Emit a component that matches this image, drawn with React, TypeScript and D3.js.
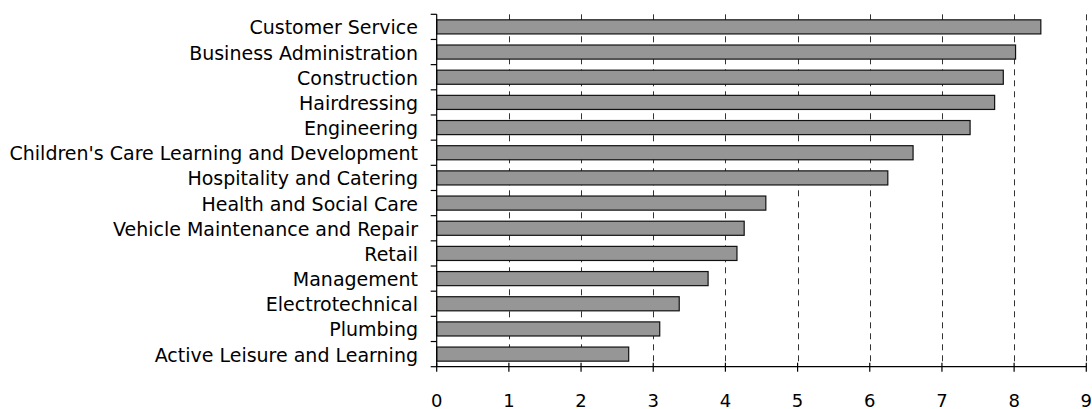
import React from 'react';
import * as d3 from 'd3';

const categories = [
  'Customer Service',
  'Business Administration',
  'Construction',
  'Hairdressing',
  'Engineering',
  "Children's Care Learning and Development",
  'Hospitality and Catering',
  'Health and Social Care',
  'Vehicle Maintenance and Repair',
  'Retail',
  'Management',
  'Electrotechnical',
  'Plumbing ',
  'Active Leisure and Learning',
];
const values = [8.37, 8.02, 7.85, 7.73, 7.39, 6.6, 6.25, 4.56, 4.26, 4.16, 3.76, 3.36, 3.09, 2.66];
const xTicks = [0, 1, 2, 3, 4, 5, 6, 7, 8, 9];

const W = 1092;
const H = 409;
const FONT = '"DejaVu Sans", Verdana, sans-serif';

export default function App() {
  const left = 436.7;
  const right = 1086.3;
  const top = 14.3;
  const bottom = 366.7;

  const x = d3.scaleLinear().domain([0, 9]).range([left, right]);
  const y = d3.scaleBand<string>().domain(categories).range([top, bottom]).paddingInner(0.44).paddingOuter(0.22);
  const step = (bottom - top) / categories.length;
  const boundaries = d3.range(categories.length + 1).map(i => top + i * step);

  return (
    <div style={{ position: 'absolute', left: 0, top: 0 }}>
      <svg width={W} height={H} style={{ display: 'block' }}>
        <rect width={W} height={H} fill="#fff" />
        {/* grid */}
        {xTicks.filter(t => t > 0).map(t => (
          <line key={'g' + t} x1={Math.round(x(t)) + 0.5} x2={Math.round(x(t)) + 0.5} y1={top} y2={bottom}
            stroke="#333" strokeWidth={1} strokeDasharray="6,5" />
        ))}
        {/* bars */}
        {categories.map((c, i) => (
          <rect key={c} x={x(0)} y={y(c)!} width={x(values[i]) - x(0)} height={y.bandwidth()}
            fill="#969696" stroke="#111" strokeWidth={1.2} />
        ))}
        {/* y axis */}
        <line x1={left} x2={left} y1={top} y2={bottom} stroke="#000" strokeWidth={1.2} />
        {boundaries.map((b, i) => (
          <line key={'yt' + i} x1={left - 6} x2={left} y1={b} y2={b} stroke="#000" strokeWidth={1.2} />
        ))}
        {categories.map(c => (
          <text key={'l' + c} x={418} y={y(c)! + y.bandwidth() / 2 + 0.5} textAnchor="end" dominantBaseline="central"
            fontFamily={FONT} fontSize={19} fill="#000">{c}</text>
        ))}
        {/* x axis */}
        <line x1={left} x2={right} y1={bottom} y2={bottom} stroke="#000" strokeWidth={1.2} />
        {xTicks.map(t => (
          <g key={'xt' + t}>
            <line x1={x(t)} x2={x(t)} y1={bottom - 4} y2={bottom + 5} stroke="#000" strokeWidth={1.2} />
            <text x={x(t)} y={400} textAnchor="middle" dominantBaseline="central" fontFamily={FONT} fontSize={18} fill="#000">{t}</text>
          </g>
        ))}
      </svg>
    </div>
  );
}
